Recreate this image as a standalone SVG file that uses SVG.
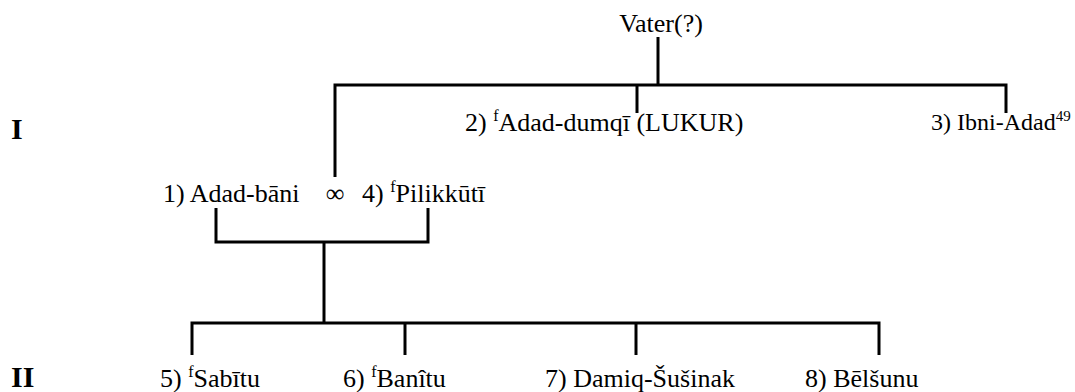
<svg xmlns="http://www.w3.org/2000/svg" width="1075" height="392" viewBox="0 0 1075 392">
  <style>
    .lbl { font-size: 26px; fill: #000; }
    .small { font-size: 24px; }
    .gen { font-weight: bold; font-size: 30px; }
    .sup { font-size: 16px; }
    .sup-s { font-size: 15px; }
    .link { stroke: #000; stroke-width: 3; fill: none; stroke-linecap: butt; stroke-linejoin: miter; }
  </style>
  <rect width="1075" height="392" fill="#fff"/>

  <g font-family="Liberation Serif, DejaVu Serif, serif">
    <!-- generation markers -->
    <g id="generations">
      <text class="lbl gen" x="11" y="139">I</text>
      <text class="lbl gen" x="11" y="387">II</text>
    </g>

    <!-- family lines -->
    <g id="connectors">
      <path class="link" d="M658 37 V85"/>
      <path class="link" d="M335 177 V85 H1006 V113"/>
      <path class="link" d="M637 85 V113"/>
      <path class="link" d="M216 208 V242 H428 V208"/>
      <path class="link" d="M324 242 V323"/>
      <path class="link" d="M192 355 V323 H879 V355"/>
      <path class="link" d="M405 323 V355"/>
      <path class="link" d="M636 323 V355"/>
    </g>

    <g id="father">
      <text class="lbl" x="661" y="32" text-anchor="middle">Vater(?)</text>
    </g>
    <g id="p2">
      <text class="lbl" x="465" y="131">2) <tspan class="sup" dy="-10">f</tspan><tspan dy="10">Adad-dumqī (LUKUR)</tspan></text>
    </g>
    <g id="p3">
      <text class="lbl small" x="931" y="130">3) Ibni-Adad<tspan class="sup-s" dy="-9">49</tspan></text>
    </g>
    <g id="p1">
      <text class="lbl" x="163" y="202">1) Adad-bāni</text>
    </g>
    <g id="marriage">
      <text class="lbl" x="335" y="202" text-anchor="middle">∞</text>
    </g>
    <g id="p4">
      <text class="lbl" x="362" y="202">4) <tspan class="sup" dy="-10">f</tspan><tspan dy="10">Pilikkūtī</tspan></text>
    </g>
    <g id="p5">
      <text class="lbl" x="160" y="387">5) <tspan class="sup" dy="-10">f</tspan><tspan dy="10">Sabītu</tspan></text>
    </g>
    <g id="p6">
      <text class="lbl" x="343" y="387">6) <tspan class="sup" dy="-10">f</tspan><tspan dy="10">Banîtu</tspan></text>
    </g>
    <g id="p7">
      <text class="lbl" x="545" y="387">7) Damiq-Šušinak</text>
    </g>
    <g id="p8">
      <text class="lbl" x="805" y="387">8) Bēlšunu</text>
    </g>
  </g>
</svg>
